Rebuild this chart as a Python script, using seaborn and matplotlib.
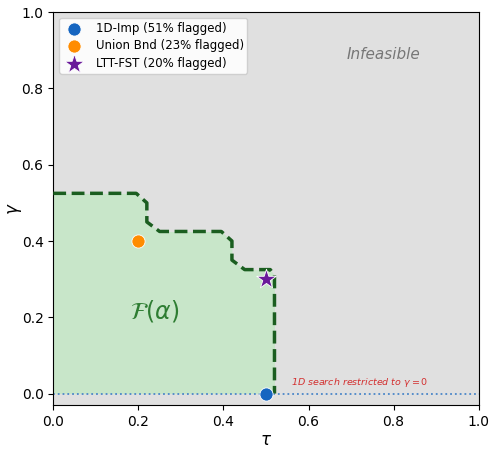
import pandas as pd
import matplotlib.pyplot as plt
import seaborn as sns

# feasible region boundary (tau, gamma)
bnd_tau = [0.0, 0.195, 0.22, 0.22, 0.25, 0.395, 0.42, 0.42, 0.45, 0.51, 0.52, 0.52]
bnd_gamma = [0.525, 0.525, 0.50, 0.45, 0.425, 0.425, 0.40, 0.35, 0.325, 0.325, 0.31, 0.0]

methods = ['1D-Imp (51% flagged)', 'Union Bnd (23% flagged)', 'LTT-FST (20% flagged)']
m_tau = [0.5, 0.2, 0.5]
m_gamma = [0.0, 0.4, 0.3]
m_colors = ['#1565c0', '#ff8c00', '#6a1b9a']
m_markers = ['o', 'o', '*']

df = pd.DataFrame({'tau': m_tau, 'gamma': m_gamma, 'method': methods})

fig = plt.figure(figsize=(4.93, 4.51), dpi=100)
ax = fig.add_axes([0.108, 0.102, 0.863, 0.871])
ax.set_facecolor('#e0e0e0')

ax.fill_between(bnd_tau, bnd_gamma, 0, color='#c8e6c9', lw=0, zorder=1)
ax.plot(bnd_tau, bnd_gamma, color='#1b5e20', lw=2.5, ls='--', zorder=3)
ax.axhline(0, color='#4a86c8', lw=1.3, ls=':', zorder=2)

for i in range(len(methods)):
    sns.scatterplot(data=df.iloc[[i]], x='tau', y='gamma', color=m_colors[i],
                    marker=m_markers[i], s=220 if m_markers[i] == '*' else 90,
                    edgecolor='white', linewidth=0.6, label=methods[i], zorder=5, ax=ax)

ax.text(0.776, 0.89, 'Infeasible', fontsize=11, style='italic', color='#777777', ha='center', va='center')
ax.text(0.238, 0.217, r'$\mathcal{F}(\alpha)$', fontsize=17, color='#2e7d32', ha='center', va='center')
ax.text(0.558, 0.029, r'1D search restricted to $\gamma = 0$', fontsize=6.8, style='italic',
        color='#d32f2f', ha='left', va='center')

ax.set_xlim(0, 1)
ax.set_ylim(-0.03, 1.0)
ax.set_xticks([0, 0.2, 0.4, 0.6, 0.8, 1.0])
ax.set_yticks([0, 0.2, 0.4, 0.6, 0.8, 1.0])
ax.set_xlabel(r'$\tau$', fontsize=12, labelpad=2)
ax.set_ylabel(r'$\gamma$', fontsize=12, labelpad=-2)
ax.legend(loc='upper left', fontsize=8.5, framealpha=0.9, borderpad=0.3, labelspacing=0.4)

plt.savefig('out.png', dpi=100)
